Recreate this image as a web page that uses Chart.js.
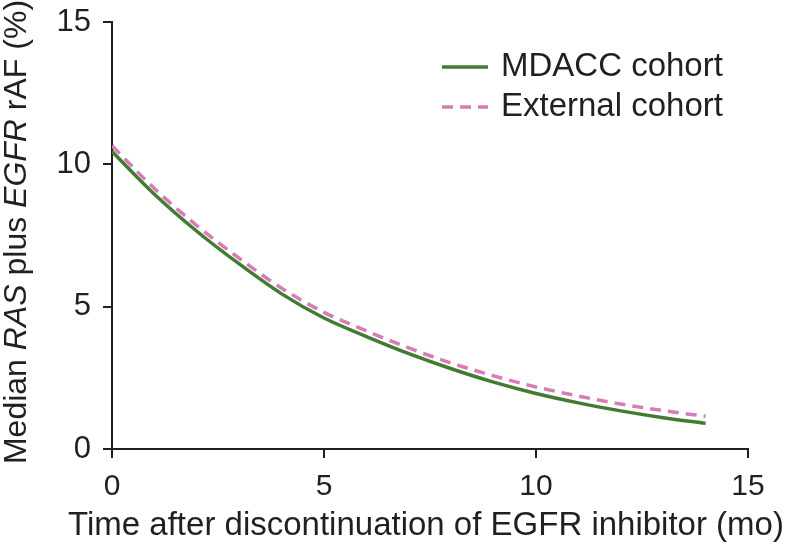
<!DOCTYPE html>
<html>
<head>
<meta charset="utf-8">
<script src="https://cdn.jsdelivr.net/npm/chart.js@4.4.1/dist/chart.umd.min.js"></script>
<style>
  html, body { margin: 0; padding: 0; background: #fff; }
  #chart { display: block; }
</style>
</head>
<body>
<canvas id="chart" width="786" height="548"></canvas>
<script>
// months after discontinuation
var months = [0, 1, 2, 3, 4, 5, 6, 7, 8, 9, 10, 11, 12, 13, 14];
// median RAS + EGFR rAF (%)
var mdaccValues = [10.45, 8.95, 7.65, 6.5, 5.45, 4.6, 3.95, 3.35, 2.82, 2.35, 1.95, 1.62, 1.34, 1.1, 0.9];
var externalValues = [10.65, 9.15, 7.85, 6.7, 5.65, 4.8, 4.15, 3.55, 3.02, 2.57, 2.18, 1.86, 1.58, 1.35, 1.15];
var seriesNames = ['MDACC cohort', 'External cohort'];
var xTicks = [0, 5, 10, 15];
var yTicks = [0, 5, 10, 15];
var xTitle = 'Time after discontinuation of EGFR inhibitor (mo)';

var ink = '#231f20';
var green = '#437b32';
var pink = '#d77cb6';
var fontFamily = '"Liberation Sans", Arial, Helvetica, sans-serif';

function toPoints(xs, ys) {
    var pts = [];
    for (var i = 0; i < xs.length; i++) {
        pts.push({ x: xs[i], y: ys[i] });
    }
    return pts;
}

// axis titles drawn by hand: the y one mixes italic, the x one is wider than the plot
var titlesPlugin = {
    id: 'axisTitles',
    afterDraw: function(chart) {
        var ctx = chart.ctx;
        var parts = [
            ['Median ', 'normal'],
            ['RAS', 'italic'],
            [' plus ', 'normal'],
            ['EGFR', 'italic'],
            [' rAF (%)', 'normal']
        ];
        var size = 32;
        var total = 0;
        parts.forEach(function(p) {
            ctx.font = p[1] + ' ' + size + 'px ' + fontFamily;
            total += ctx.measureText(p[0]).width;
        });
        ctx.save();
        ctx.fillStyle = ink;
        ctx.textBaseline = 'middle';
        ctx.translate(17, 232);
        ctx.rotate(-Math.PI / 2);
        ctx.textAlign = 'left';
        var x = -total / 2;
        parts.forEach(function(p) {
            ctx.font = p[1] + ' ' + size + 'px ' + fontFamily;
            ctx.fillText(p[0], x, 0);
            x += ctx.measureText(p[0]).width;
        });
        ctx.restore();

        ctx.save();
        ctx.fillStyle = ink;
        ctx.font = '33px ' + fontFamily;
        ctx.textAlign = 'center';
        ctx.textBaseline = 'middle';
        ctx.fillText(xTitle, 426, 526);
        ctx.restore();
    }
};

// legend inside the plot, top right
var legendPlugin = {
    id: 'insideLegend',
    afterDraw: function(chart) {
        var ctx = chart.ctx;
        var area = chart.chartArea;
        var x0 = area.left + 330;
        var y0 = area.top + 45;
        ctx.save();
        chart.data.datasets.forEach(function(ds, i) {
            var y = y0 + i * 40;
            ctx.beginPath();
            ctx.strokeStyle = ds.borderColor;
            ctx.lineWidth = ds.borderWidth;
            ctx.setLineDash(ds.borderDash || []);
            ctx.moveTo(x0, y);
            ctx.lineTo(x0 + 46, y);
            ctx.stroke();
            ctx.setLineDash([]);
            ctx.fillStyle = ink;
            ctx.font = '33px ' + fontFamily;
            ctx.textBaseline = 'middle';
            ctx.fillText(ds.label, x0 + 59, y);
        });
        ctx.restore();
    }
};

var ctx = document.getElementById('chart').getContext('2d');
var chart = new Chart(ctx, {
    type: 'line',
    data: {
        datasets: [{
            label: seriesNames[0],
            data: toPoints(months, mdaccValues),
            borderColor: green,
            borderWidth: 3.5,
            pointRadius: 0,
            tension: 0.4,
            cubicInterpolationMode: 'monotone',
            fill: false
        }, {
            label: seriesNames[1],
            data: toPoints(months, externalValues),
            borderColor: pink,
            borderWidth: 3.5,
            borderDash: [11, 7],
            pointRadius: 0,
            tension: 0.4,
            cubicInterpolationMode: 'monotone',
            fill: false
        }]
    },
    options: {
        responsive: false,
        animation: false,
        devicePixelRatio: 1,
        layout: { padding: { top: 22, right: 38, left: 0, bottom: 0 } },
        plugins: {
            legend: { display: false },
            tooltip: { enabled: false }
        },
        scales: {
            x: {
                type: 'linear',
                min: 0,
                max: 15,
                afterBuildTicks: function(scale) {
                    scale.ticks = xTicks.map(function(v) { return { value: v }; });
                },
                afterFit: function(scale) {
                    scale.height = 99;
                    scale.paddingLeft = 0;
                    scale.paddingRight = 0;
                },
                grid: { drawOnChartArea: false, drawTicks: true, tickLength: 9, color: ink, lineWidth: 2 },
                border: { display: true, color: ink, width: 2 },
                ticks: { color: ink, font: { family: fontFamily, size: 30 }, padding: 11, maxRotation: 0 }
            },
            y: {
                min: 0,
                max: 15,
                afterBuildTicks: function(scale) {
                    scale.ticks = yTicks.map(function(v) { return { value: v }; });
                },
                afterFit: function(scale) {
                    scale.width = 112;
                    scale.paddingTop = 0;
                    scale.paddingBottom = 0;
                },
                grid: { drawOnChartArea: false, drawTicks: true, tickLength: 9, color: ink, lineWidth: 2 },
                border: { display: true, color: ink, width: 2 },
                ticks: { color: ink, font: { family: fontFamily, size: 31 }, padding: 12 }
            }
        }
    },
    plugins: [titlesPlugin, legendPlugin]
});
</script>
</body>
</html>
